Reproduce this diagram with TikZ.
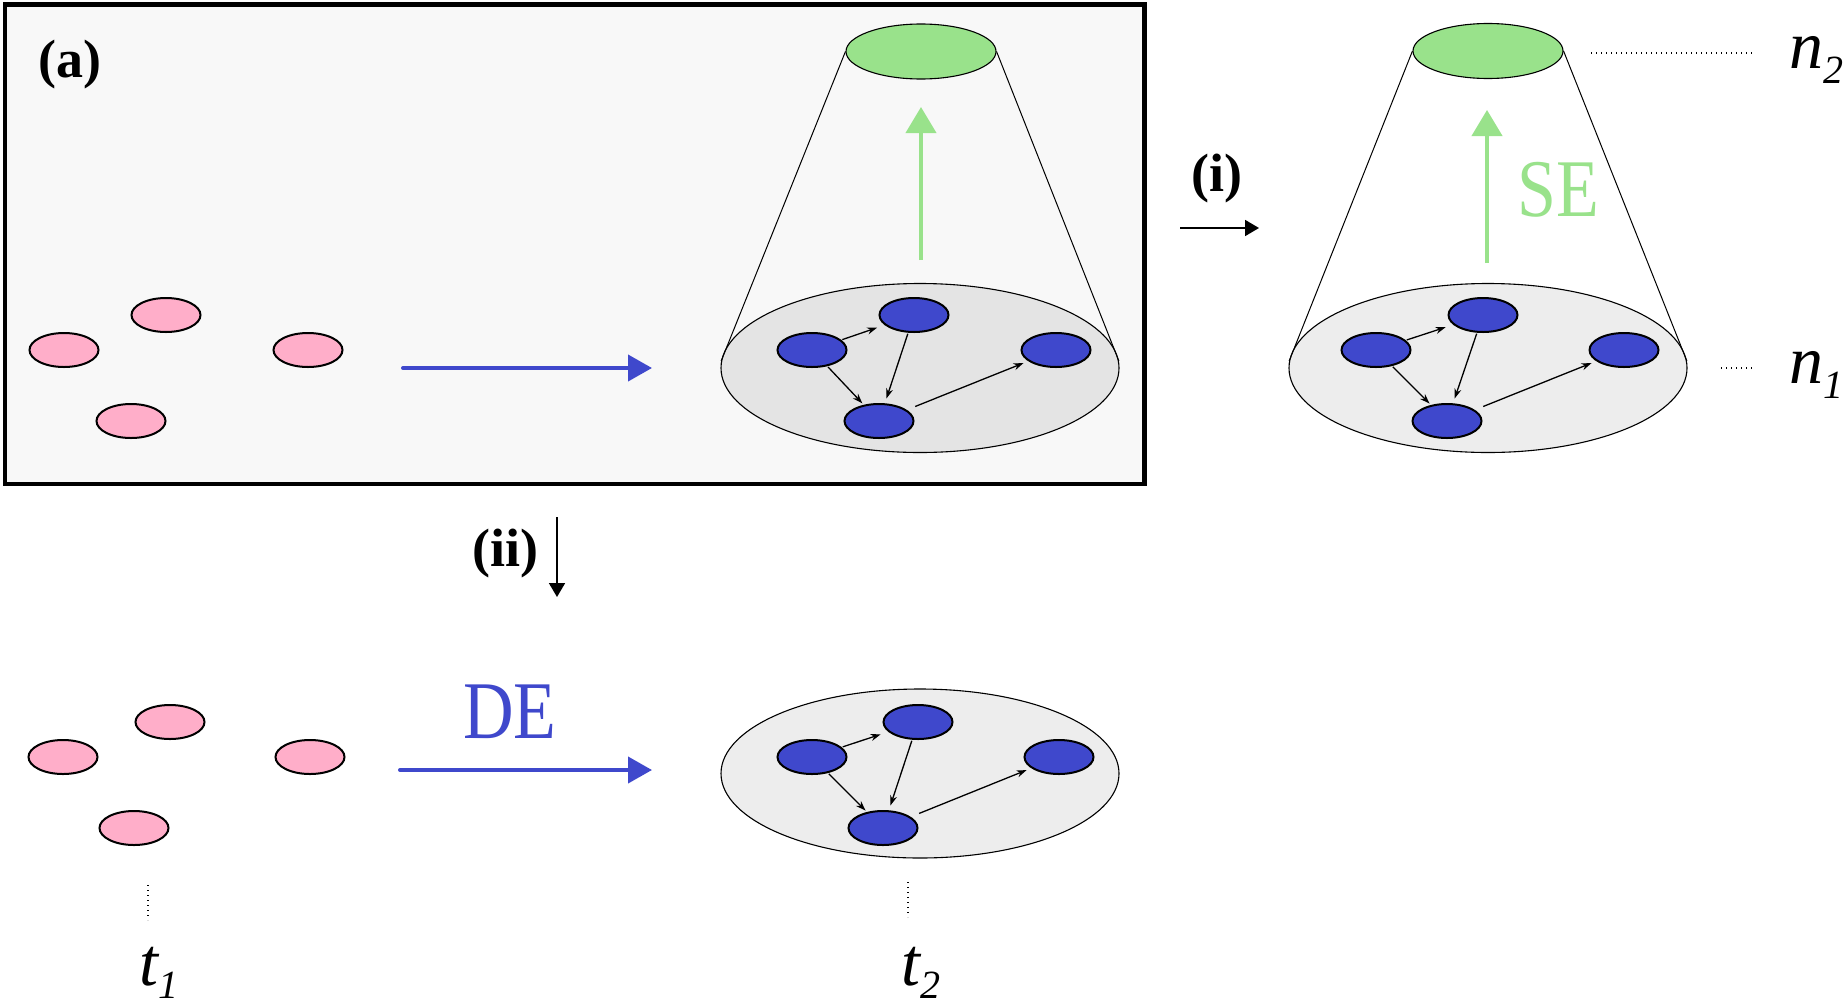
\documentclass[tikz,border=0pt]{standalone}
\usepackage{fontspec}
\setmainfont{Liberation Serif}
\usepackage{graphicx}
\usetikzlibrary{arrows.meta,shapes.geometric}
\definecolor{nodeblue}{RGB}{63,72,204}
\definecolor{nodepink}{RGB}{255,174,201}
\definecolor{segreen}{RGB}{153,226,139}
\definecolor{framebg}{RGB}{248,248,248}
\definecolor{diskL}{RGB}{228,228,228}
\definecolor{diskR}{RGB}{237,237,237}
\begin{document}
\begin{tikzpicture}[x=1pt,y=-1pt,
  bluenode/.style={ellipse, draw=black, line width=2pt, fill=nodeblue, minimum width=69pt, minimum height=34pt, inner sep=0pt},
  pinknode/.style={ellipse, draw=black, line width=2pt, fill=nodepink, minimum width=69pt, minimum height=34pt, inner sep=0pt},
  disk/.style={ellipse, draw=black, line width=1.1pt, minimum width=398pt, minimum height=169pt, inner sep=0pt},
  topdisk/.style={ellipse, draw=black, line width=1.1pt, fill=segreen, minimum width=150pt, minimum height=55pt, inner sep=0pt},
  gedge/.style={-{Stealth[length=10pt,width=7pt]}, line width=1.3pt, shorten <=1pt, shorten >=5pt},
  coneline/.style={line width=1pt},
  bluearrow/.style={draw=nodeblue, line width=4pt, line cap=round, -{Triangle[length=24pt,width=26pt]}},
  greenarrow/.style={draw=segreen, line width=4pt, -{Triangle[length=26pt,width=30pt]}},
  smallarrow/.style={line width=1.8pt, -{Triangle[length=14pt,width=16pt]}},
  dotline/.style={line width=1.2pt, dash pattern=on 1.2pt off 3.8pt},
  boldlbl/.style={inner sep=0pt, font=\fontsize{54}{60}\selectfont\bfseries},
  biglbl/.style={inner sep=0pt, font=\fontsize{70}{80}\selectfont},
  varlbl/.style={inner sep=0pt, anchor=base west, font=\fontsize{68}{76}\selectfont\itshape}
]
\useasboundingbox (0,0) rectangle (1843,1004);
\fill[white] (0,0) rectangle (1843,1004);

% frame (a)
\draw[line width=4.5pt, fill=framebg] (5,4.5) rectangle (1144.5,484);
\node[boldlbl] (lbla) at (70,65) {(a)};

% pink nodes (top)
\node[pinknode] (p1) at (64,350) {};
\node[pinknode] (p2) at (166,315) {};
\node[pinknode] (p3) at (308,350) {};
\node[pinknode] (p4) at (131,421) {};

\coordinate (ta1) at (403,368);
\coordinate (ta2) at (652,368);
\draw[bluearrow] (ta1) -- (ta2);

% left cone
\node[disk, fill=diskL] (d1) at (920,368) {};
\node[topdisk] (g1) at (921,51.5) {};
\draw[coneline] (g1.west) -- (d1.178);
\draw[coneline] (g1.east) -- (d1.2);
\coordinate (se1s) at (921,260);
\coordinate (se1e) at (921,107);
\draw[greenarrow] (se1s) -- (se1e);
\node[bluenode] (a1) at (812,350) {};
\node[bluenode] (b1) at (914,315) {};
\node[bluenode] (c1) at (879,421) {};
\node[bluenode] (e1) at (1056,350) {};
\draw[gedge, shorten >=8pt] (a1) -- (b1);
\draw[gedge] (b1) -- (c1);
\draw[gedge, shorten >=2pt] (a1) -- (c1);
\draw[gedge, shorten <=9pt] (c1) -- (e1);

% (i)
\node[boldlbl] (lbli) at (1217,179) {(i)};
\coordinate (ia1) at (1180,228);
\coordinate (ia2) at (1259,228);
\draw[smallarrow] (ia1) -- (ia2);

% right cone
\node[disk, fill=diskR] (d2) at (1488,368) {};
\node[topdisk] (g2) at (1488,51) {};
\draw[coneline] (g2.west) -- (d2.178);
\draw[coneline] (g2.east) -- (d2.2);
\coordinate (se2s) at (1487,263);
\coordinate (se2e) at (1487,110);
\draw[greenarrow] (se2s) -- (se2e);
\node[biglbl, text=segreen] (selbl) at (1558,190) {\scalebox{1}[1.17]{SE}};
\node[bluenode] (a2) at (1376,350) {};
\node[bluenode] (b2) at (1483,315) {};
\node[bluenode] (c2) at (1447,421) {};
\node[bluenode] (e2) at (1624,350) {};
\draw[gedge, shorten >=8pt] (a2) -- (b2);
\draw[gedge] (b2) -- (c2);
\draw[gedge, shorten >=2pt] (a2) -- (c2);
\draw[gedge, shorten <=9pt] (c2) -- (e2);

% n labels
\coordinate (n2s) at (1591,53);
\coordinate (n2e) at (1752,53);
\draw[dotline] (n2s) -- (n2e);
\node[varlbl] (n2lbl) at (1789,68) {n\raisebox{-15pt}{\fontsize{40}{44}\selectfont 2}};
\coordinate (n1s) at (1721,368);
\coordinate (n1e) at (1755,368);
\draw[dotline] (n1s) -- (n1e);
\node[varlbl] (n1lbl) at (1789,383) {n\raisebox{-15pt}{\fontsize{40}{44}\selectfont 1}};

% (ii)
\node[boldlbl] (lblii) at (505,554) {(ii)};
\coordinate (iia1) at (557,517);
\coordinate (iia2) at (557,597);
\draw[smallarrow] (iia1) -- (iia2);

% bottom row
\node[pinknode] (q1) at (63,757) {};
\node[pinknode] (q2) at (170,722) {};
\node[pinknode] (q3) at (310,757) {};
\node[pinknode] (q4) at (134,828) {};

\node[biglbl, text=nodeblue] (delbl) at (510,712) {\scalebox{1}[1.17]{DE}};
\coordinate (ba1) at (400,770);
\coordinate (ba2) at (652,770);
\draw[bluearrow] (ba1) -- (ba2);

\node[disk, fill=diskR] (d3) at (920,773.5) {};
\node[bluenode] (a3) at (812,757) {};
\node[bluenode] (b3) at (918,722) {};
\node[bluenode] (c3) at (883,828) {};
\node[bluenode] (e3) at (1059,757) {};
\draw[gedge, shorten >=8pt] (a3) -- (b3);
\draw[gedge] (b3) -- (c3);
\draw[gedge, shorten >=2pt] (a3) -- (c3);
\draw[gedge, shorten <=9pt] (c3) -- (e3);

% t labels
\coordinate (t1s) at (148,885);
\coordinate (t1e) at (148,920);
\draw[dotline] (t1s) -- (t1e);
\node[varlbl] (t1lbl) at (139,985) {t\raisebox{-13pt}{\fontsize{40}{44}\selectfont 1}};
\coordinate (t2s) at (908,882);
\coordinate (t2e) at (908,917);
\draw[dotline] (t2s) -- (t2e);
\node[varlbl] (t2lbl) at (901,985) {t\raisebox{-13pt}{\fontsize{40}{44}\selectfont 2}};
\end{tikzpicture}
\end{document}
